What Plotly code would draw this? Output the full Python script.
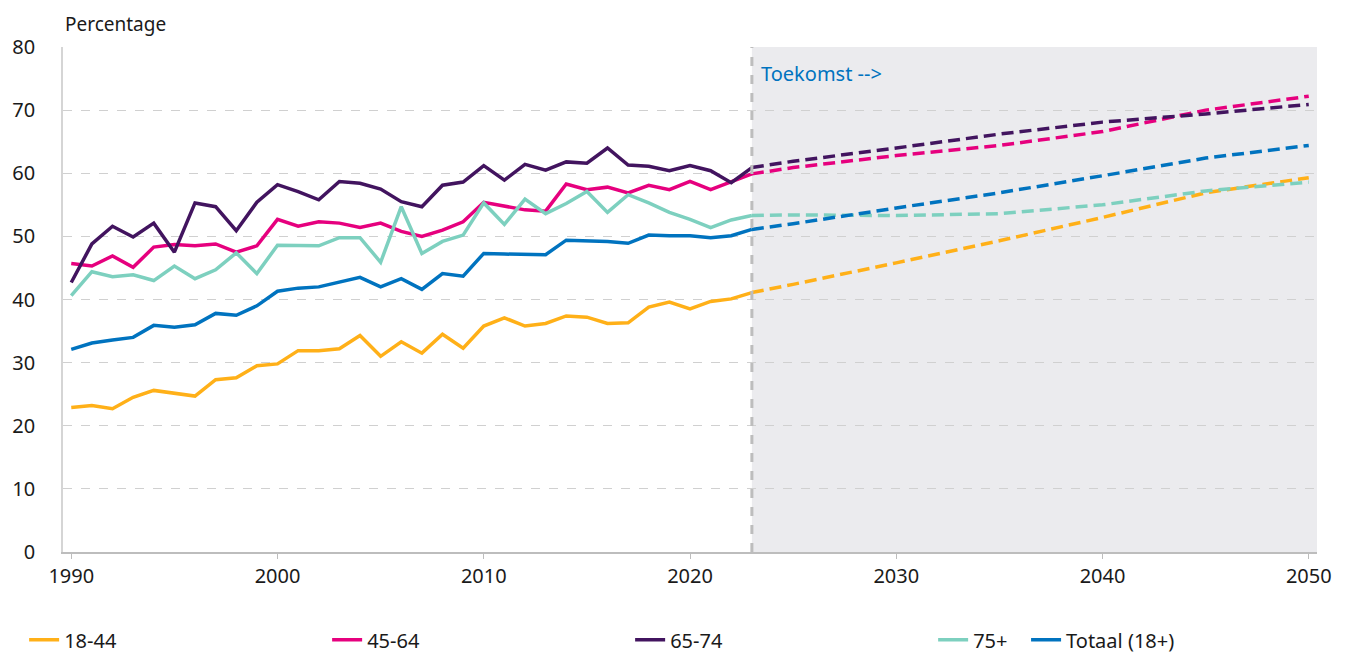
import plotly.graph_objects as go

# ── Data ──────────────────────────────────────────────────────────────────────

years = list(range(1990, 2024))
proj_years = [2023, 2025, 2030, 2035, 2040, 2045, 2050]

age_18_44 = [22.9, 23.2, 22.7, 24.5, 25.6, 25.2, 24.7, 27.3, 27.6, 29.5,
             29.8, 31.9, 31.9, 32.2, 34.3, 31.0, 33.3, 31.5, 34.5, 32.3,
             35.8, 37.1, 35.8, 36.2, 37.4, 37.2, 36.2, 36.3, 38.8, 39.6,
             38.5, 39.7, 40.1, 41.1]
age_45_64 = [45.7, 45.3, 46.9, 45.1, 48.3, 48.7, 48.5, 48.8, 47.5, 48.5,
             52.7, 51.6, 52.3, 52.1, 51.4, 52.1, 50.8, 50.0, 51.0, 52.3,
             55.4, 54.8, 54.2, 54.0, 58.3, 57.4, 57.8, 56.9, 58.1, 57.4,
             58.7, 57.4, 58.7, 59.9]
age_65_74 = [42.7, 48.8, 51.6, 49.9, 52.1, 47.5, 55.3, 54.7, 50.9, 55.4,
             58.2, 57.1, 55.8, 58.7, 58.4, 57.5, 55.5, 54.7, 58.1, 58.6,
             61.2, 58.9, 61.4, 60.5, 61.8, 61.6, 64.0, 61.3, 61.1, 60.4,
             61.2, 60.4, 58.5, 60.9]
age_75_plus = [40.6, 44.4, 43.6, 43.9, 43.0, 45.3, 43.3, 44.7, 47.4, 44.1,
               48.6, 48.5, 48.5, 49.8, 49.8, 45.9, 54.7, 47.3, 49.2, 50.2,
               55.3, 51.9, 55.9, 53.6, 55.2, 57.1, 53.8, 56.6, 55.3, 53.8,
               52.7, 51.4, 52.6, 53.3]
totaal = [32.1, 33.1, 33.6, 34.0, 35.9, 35.6, 36.0, 37.8, 37.5, 39.0,
          41.3, 41.8, 42.0, 42.7, 43.5, 42.0, 43.3, 41.6, 44.1, 43.7,
          47.3, 47.2, 47.2, 47.1, 49.4, 49.3, 49.2, 48.9, 50.2, 50.1,
          50.1, 49.8, 50.1, 51.1]

proj_18_44 = [41.1, 42.4, 45.8, 49.3, 53.0, 56.9, 59.3]
proj_45_64 = [59.9, 60.9, 62.8, 64.4, 66.6, 70.0, 72.2]
proj_65_74 = [60.9, 61.9, 64.0, 66.2, 68.1, 69.4, 70.9]
proj_75_plus = [53.3, 53.4, 53.3, 53.6, 55.0, 57.2, 58.6]
proj_totaal = [51.1, 52.0, 54.5, 56.9, 59.6, 62.4, 64.4]

labels = ["18-44", "45-64", "65-74", "75+", "Totaal (18+)"]

# ── Styling ───────────────────────────────────────────────────────────────────

COLORS = {
    "18-44": "#FFB018",
    "45-64": "#E6007E",
    "65-74": "#42145F",
    "75+": "#7DD0BF",
    "Totaal (18+)": "#0073BF",
}
FONT = "Noto Sans, Open Sans, sans-serif"
TEXT = "#1a1a1a"
GRID = "#d0d0d0"

history = [age_18_44, age_45_64, age_65_74, age_75_plus, totaal]
future = [proj_18_44, proj_45_64, proj_65_74, proj_75_plus, proj_totaal]

fig = go.Figure()

# future shading + divider
fig.add_vrect(x0=2023, x1=2050.4, fillcolor="#EBEBEE", line_width=0, layer="below")

for name, proj in zip(labels, future):
    fig.add_trace(go.Scatter(
        x=proj_years, y=proj, mode="lines",
        line=dict(color=COLORS[name], width=3.5, dash="12px,6px"),
        showlegend=False, hoverinfo="skip",
    ))

for name, hist in zip(labels, history):
    fig.add_trace(go.Scatter(
        x=years, y=hist, mode="lines", name=name,
        line=dict(color=COLORS[name], width=3.5),
        legend="legend2" if name == "Totaal (18+)" else "legend",
    ))

fig.add_vline(x=2023, line_dash="dash", line_color="#BDBDBD", line_width=3)

fig.add_annotation(
    x=2023, y=75.8, xref="x", yref="y", xanchor="left", xshift=7,
    text="Toekomst -->", showarrow=False,
    font=dict(size=20, color="#0073BF", family=FONT),
)
fig.add_annotation(
    x=0, y=1, xref="paper", yref="paper", xanchor="left", yanchor="bottom",
    yshift=8, text="Percentage", showarrow=False,
    font=dict(size=19, color=TEXT, family=FONT),
)

legend_style = dict(
    orientation="h", yanchor="middle", y=-0.174, xanchor="left",
    font=dict(size=20, color=TEXT, family=FONT),
    bgcolor="rgba(0,0,0,0)", itemwidth=30,
)

# page body has an 8px margin, so the figure is 8px smaller than the window
fig.update_layout(
    width=1340, height=647,
    paper_bgcolor="white", plot_bgcolor="white",
    font=dict(family=FONT, size=19, color=TEXT),
    margin=dict(l=55, r=31, t=39, b=103, autoexpand=False),
    legend=dict(x=-0.031, entrywidth=258, entrywidthmode="pixels", **legend_style),
    legend2=dict(x=0.768, **legend_style),
    xaxis=dict(
        range=[1989.6, 2050.4], tickvals=[1990, 2000, 2010, 2020, 2030, 2040, 2050],
        showgrid=False, showline=True, linecolor="#BDBDBD", linewidth=1.5,
        ticks="outside", ticklen=5, tickcolor="#BDBDBD", automargin=False,
        tickfont=dict(size=20, color=TEXT), zeroline=False,
    ),
    yaxis=dict(
        range=[0, 80], dtick=10, showgrid=True, gridcolor=GRID, griddash="dash",
        gridwidth=1, showline=True, linecolor="#D5D5D5", linewidth=1.5,
        tickfont=dict(size=20, color=TEXT), ticklabelstandoff=22,
        zeroline=False, automargin=False,
    ),
)

fig.write_html("out.html")
